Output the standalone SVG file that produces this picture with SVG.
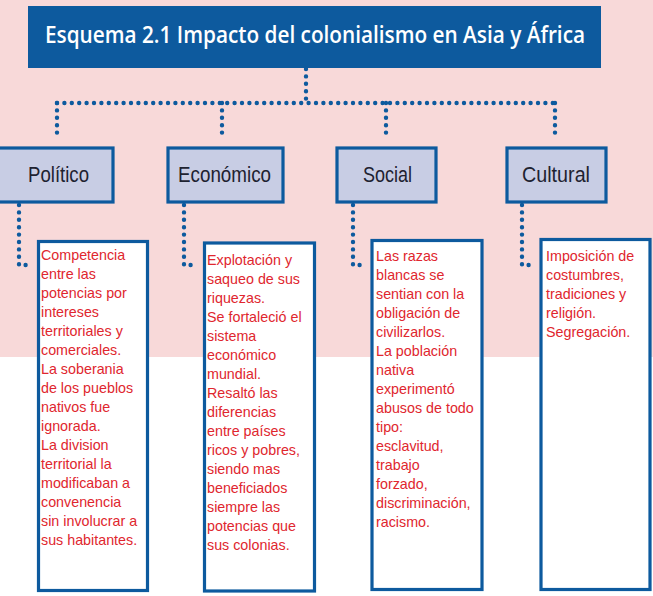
<svg xmlns="http://www.w3.org/2000/svg" width="653" height="596" viewBox="0 0 653 596">
<style>
.dot{fill:none;stroke:#0d5a9e;stroke-width:4.4;stroke-linecap:round;stroke-dasharray:0 7.4}
.cat{fill:#c8cde4;stroke:#0d5a9e;stroke-width:3.2}
.catt{font-family:"Liberation Sans",Arial,sans-serif;font-size:22px;fill:#1e2230}
.box{fill:#ffffff;stroke:#0d5a9e;stroke-width:3.2}
.txt{font-family:"Liberation Sans",Arial,sans-serif;font-size:14.3px;fill:#e0262e}
</style>
<rect x="0" y="0" width="653" height="357" fill="#f8d9d9"/>
<rect x="0" y="357" width="653" height="239" fill="#ffffff"/>
<g id="title">
<rect x="28" y="6" width="573" height="62" fill="#0d5a9e"/>
<text x="45" y="43" textLength="540" lengthAdjust="spacingAndGlyphs" style="font-family:'Open Sans','Liberation Sans',sans-serif;font-weight:600;font-size:22.5px;fill:#ffffff">Esquema 2.1 Impacto del colonialismo en Asia y África</text>
</g>
<g id="connectors">
<path class="dot" d="M306 69 V103"/>
<path class="dot" d="M57 103 H555"/>
<path class="dot" d="M57 103 V140"/>
<path class="dot" d="M222 103 V140"/>
<path class="dot" d="M386 103 V140"/>
<path class="dot" d="M555 103 V140"/>
<path class="dot" d="M19 205 V265 H32"/>
<path class="dot" d="M184 205 V265 H197"/>
<path class="dot" d="M353 205 V265 H364"/>
<path class="dot" d="M522 205 V265 H533"/>
</g>
<g id="politico">
<rect class="cat" x="-2" y="148" width="115" height="54"/>
<text class="catt" x="28" y="181.5" textLength="61" lengthAdjust="spacingAndGlyphs">Político</text>
</g>
<g id="economico">
<rect class="cat" x="168" y="148" width="115" height="54"/>
<text class="catt" x="178" y="181.5" textLength="93" lengthAdjust="spacingAndGlyphs">Económico</text>
</g>
<g id="social">
<rect class="cat" x="337" y="148" width="99" height="54"/>
<text class="catt" x="363" y="181.5" textLength="49" lengthAdjust="spacingAndGlyphs">Social</text>
</g>
<g id="cultural">
<rect class="cat" x="507" y="148" width="99" height="54"/>
<text class="catt" x="522" y="181.5" textLength="68" lengthAdjust="spacingAndGlyphs">Cultural</text>
</g>
<g id="politico-text">
<rect class="box" x="38.5" y="241.5" width="109" height="349"/>
<text class="txt" x="41" y="260">
<tspan x="41" dy="0">Competencia</tspan>
<tspan x="41" dy="19">entre las</tspan>
<tspan x="41" dy="19">potencias por</tspan>
<tspan x="41" dy="19">intereses</tspan>
<tspan x="41" dy="19">territoriales y</tspan>
<tspan x="41" dy="19">comerciales.</tspan>
<tspan x="41" dy="19">La soberania</tspan>
<tspan x="41" dy="19">de los pueblos</tspan>
<tspan x="41" dy="19">nativos fue</tspan>
<tspan x="41" dy="19">ignorada.</tspan>
<tspan x="41" dy="19">La division</tspan>
<tspan x="41" dy="19">territorial la</tspan>
<tspan x="41" dy="19">modificaban a</tspan>
<tspan x="41" dy="19">convenencia</tspan>
<tspan x="41" dy="19">sin involucrar a</tspan>
<tspan x="41" dy="19">sus habitantes.</tspan>
</text>
</g>
<g id="economico-text">
<rect class="box" x="204.5" y="243" width="110" height="348"/>
<text class="txt" x="207" y="265">
<tspan x="207" dy="0">Explotación y</tspan>
<tspan x="207" dy="19">saqueo de sus</tspan>
<tspan x="207" dy="19">riquezas.</tspan>
<tspan x="207" dy="19">Se fortaleció el</tspan>
<tspan x="207" dy="19">sistema</tspan>
<tspan x="207" dy="19">económico</tspan>
<tspan x="207" dy="19">mundial.</tspan>
<tspan x="207" dy="19">Resaltó las</tspan>
<tspan x="207" dy="19">diferencias</tspan>
<tspan x="207" dy="19">entre países</tspan>
<tspan x="207" dy="19">ricos y pobres,</tspan>
<tspan x="207" dy="19">siendo mas</tspan>
<tspan x="207" dy="19">beneficiados</tspan>
<tspan x="207" dy="19">siempre las</tspan>
<tspan x="207" dy="19">potencias que</tspan>
<tspan x="207" dy="19">sus colonias.</tspan>
</text>
</g>
<g id="social-text">
<rect class="box" x="372" y="240.5" width="110" height="349"/>
<text class="txt" x="376" y="261">
<tspan x="376" dy="0">Las razas</tspan>
<tspan x="376" dy="19">blancas se</tspan>
<tspan x="376" dy="19">sentian con la</tspan>
<tspan x="376" dy="19">obligación de</tspan>
<tspan x="376" dy="19">civilizarlos.</tspan>
<tspan x="376" dy="19">La población</tspan>
<tspan x="376" dy="19">nativa</tspan>
<tspan x="376" dy="19">experimentó</tspan>
<tspan x="376" dy="19">abusos de todo</tspan>
<tspan x="376" dy="19">tipo:</tspan>
<tspan x="376" dy="19">esclavitud,</tspan>
<tspan x="376" dy="19">trabajo</tspan>
<tspan x="376" dy="19">forzado,</tspan>
<tspan x="376" dy="19">discriminación,</tspan>
<tspan x="376" dy="19">racismo.</tspan>
</text>
</g>
<g id="cultural-text">
<rect class="box" x="541" y="239.5" width="109" height="350"/>
<text class="txt" x="546" y="261">
<tspan x="546" dy="0">Imposición de</tspan>
<tspan x="546" dy="19">costumbres,</tspan>
<tspan x="546" dy="19">tradiciones y</tspan>
<tspan x="546" dy="19">religión.</tspan>
<tspan x="546" dy="19">Segregación.</tspan>
</text>
</g>
</svg>
